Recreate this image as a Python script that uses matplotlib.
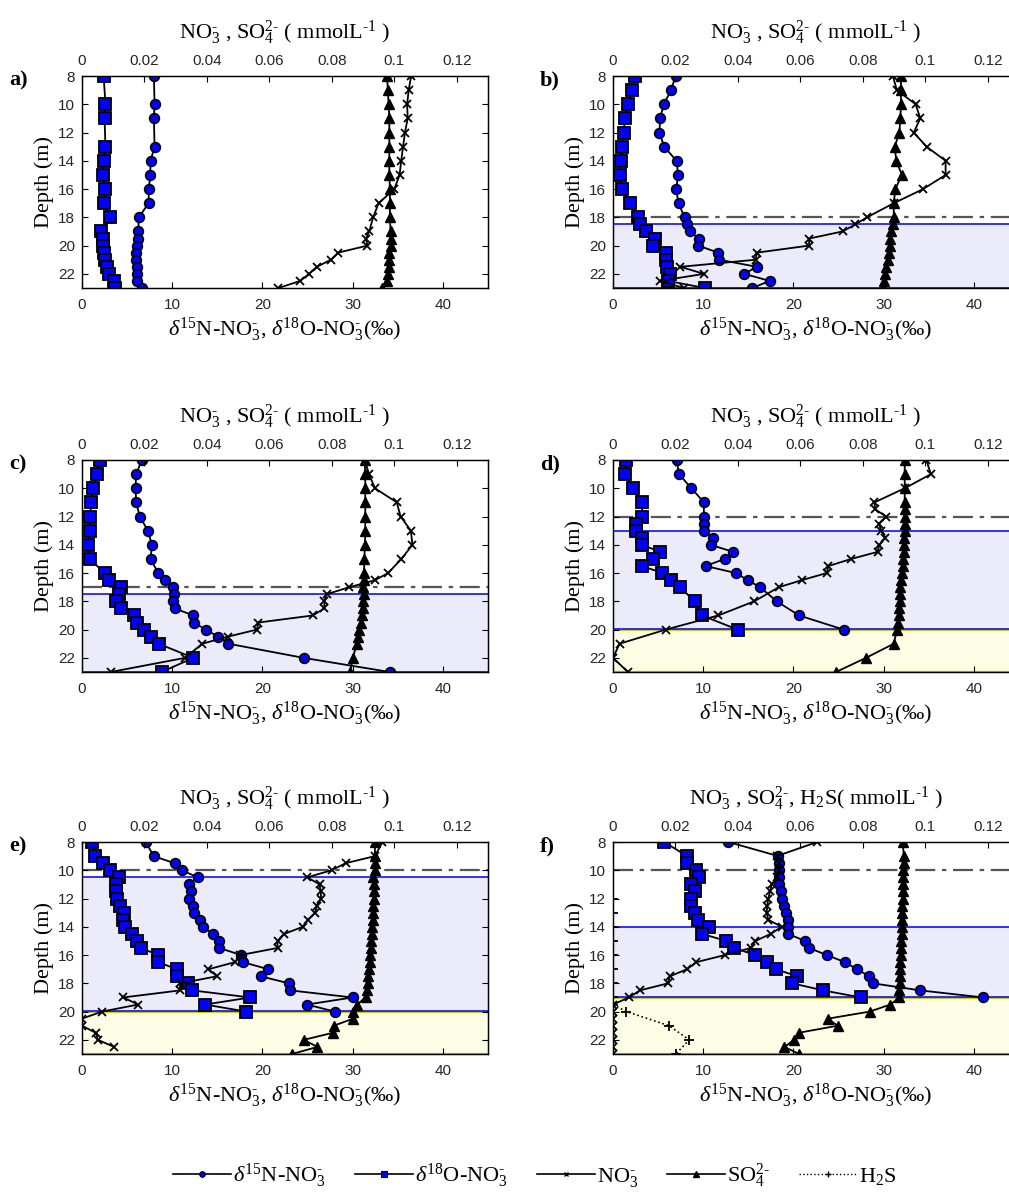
import matplotlib
matplotlib.use('Agg')
import matplotlib.pyplot as plt
from matplotlib.lines import Line2D

plt.rcParams['font.family'] = ['Liberation Serif', 'DejaVu Serif']
plt.rcParams['mathtext.fontset'] = 'custom'
plt.rcParams['mathtext.rm'] = 'Liberation Serif'
plt.rcParams['mathtext.it'] = 'Liberation Serif:italic'
plt.rcParams['mathtext.bf'] = 'Liberation Serif:bold'

# ---- a) ----
a_iso_depth = [8, 10, 11, 13, 14, 15, 16, 17, 18, 19, 19.5, 20, 20.5, 21, 21.5, 22, 22.5, 23]
a_d15n = [7.97, 8.04, 7.97, 8.04, 7.6, 7.56, 7.41, 7.38, 6.3, 6.23, 6.23, 6.15, 5.97, 6.0, 6.08, 6.08, 6.1, 6.64]
a_d18o = [2.4, 2.6, 2.5, 2.6, 2.4, 2.3, 2.6, 2.4, 3.15, 2.15, 2.33, 2.37, 2.48, 2.6, 2.78, 3.04, 3.52, 3.7]
a_chem_depth = [8, 9, 10, 11, 12, 13, 14, 15, 16, 17, 18, 19, 19.5, 20, 20.5, 21, 21.5, 22, 22.5, 23]
a_no3 = [0.1054, 0.1046, 0.1041, 0.1043, 0.1034, 0.1028, 0.1022, 0.1017, 0.1000, 0.0950,
         0.0932, 0.0920, 0.0909, 0.0914, 0.0820, 0.0797, 0.0752, 0.0727, 0.0699, 0.0629]
a_so4_depth = a_chem_depth
a_so4 = [0.0977, 0.0979, 0.0982, 0.0984, 0.0984, 0.0984, 0.0984, 0.0984, 0.0986, 0.0986,
         0.0986, 0.0988, 0.0988, 0.0988, 0.0984, 0.0984, 0.0982, 0.0981, 0.0975, 0.0959]

# ---- b) ----
b_iso_depth = [8, 9, 10, 11, 12, 13, 14, 15, 16, 17, 18, 18.5, 19, 19.5, 20, 20.5, 21, 21.5, 22, 22.5, 23]
b_d15n = [6.93, 6.44, 5.63, 5.22, 5.15, 5.67, 7.04, 7.22, 7.0, 7.26, 7.93, 8.22, 8.52, 9.56, 9.44,
          11.67, 11.78, 15.93, 14.56, 17.37, 15.44]
b_d18o = [2.48, 2.11, 1.63, 1.3, 1.19, 1.0, 0.85, 0.74, 1.04, 1.85, 2.78, 3.04, 3.63, 4.63, 4.44,
          5.85, 5.89, 6.0, 6.3, 6.07, 10.19]
b_chem_depth = b_iso_depth
b_no3 = [0.0896, 0.0909, 0.0969, 0.0984, 0.0963, 0.1004, 0.1065, 0.1065, 0.0993, 0.0899, 0.0813,
         0.0776, 0.0735, 0.0628, 0.0628, 0.0460, 0.0457, 0.0216, 0.0291, 0.0150, 0.0227]
b_so4_depth = b_iso_depth
b_so4 = [0.0922, 0.0922, 0.0922, 0.0920, 0.0917, 0.0902, 0.0907, 0.0925, 0.0904, 0.0899, 0.0899,
         0.0896, 0.0891, 0.0888, 0.0886, 0.0883, 0.0880, 0.0875, 0.0872, 0.0867, 0.0864]

# ---- c) ----
c_iso_depth = [8, 9, 10, 11, 12, 13, 14, 15, 16, 16.5, 17, 17.5, 18, 18.5, 19, 19.5, 20, 20.5, 21, 22, 23]
c_d15n = [6.63, 6.0, 5.93, 6.0, 6.41, 7.3, 7.75, 7.6, 8.45, 9.19, 10.04, 10.16, 10.04, 10.27,
          12.34, 12.42, 13.71, 15.09, 16.23, 24.57, 34.1]
c_d18o = [1.96, 1.7, 1.22, 1.0, 0.93, 0.85, 0.63, 0.85, 2.52, 3.0, 4.3, 4.11, 3.82, 4.37,
          5.71, 6.08, 6.86, 7.67, 8.49, 12.34, 8.82]
c_chem_depth = c_iso_depth
c_no3 = [0.0905, 0.0919, 0.0938, 0.1008, 0.1020, 0.1053, 0.1058, 0.1023, 0.0980, 0.0938, 0.0856,
         0.0783, 0.0776, 0.0776, 0.0739, 0.0565, 0.0560, 0.0467, 0.0385, 0.0330, 0.0092]
c_so4_depth = c_iso_depth
c_so4 = [0.0905, 0.0907, 0.0907, 0.0907, 0.0907, 0.0907, 0.0906, 0.0904, 0.0903, 0.0903, 0.0901,
         0.0903, 0.0901, 0.0899, 0.0896, 0.0892, 0.0888, 0.0884, 0.0880, 0.0867, 0.0858]

# ---- d) ----
d_iso_depth = [8, 9, 10, 11, 12, 12.5, 13, 13.5, 14, 14.5, 15, 15.5, 16, 16.5, 17, 18, 19, 20]
d_d15n = [7.07, 7.3, 8.7, 10.07, 10.07, 10.07, 10.07, 11.04, 10.81, 13.33, 12.37, 10.26,
          13.63, 14.93, 16.3, 18.15, 20.63, 25.56]
d_d18o = [1.48, 1.37, 2.19, 3.26, 3.19, 2.59, 2.52, 3.26, 3.19, 5.26, 4.44, 3.22,
          5.48, 6.48, 7.44, 9.04, 9.85, 13.81]
d_chem_depth = [8, 9, 10, 11, 11.5, 12, 12.5, 13, 13.5, 14, 14.5, 15, 15.5, 16, 16.5, 17,
                18, 19, 20, 21, 22, 23]
d_no3 = [0.1003, 0.1018, 0.0934, 0.0837, 0.0840, 0.0875, 0.0851, 0.0859, 0.0872, 0.0853, 0.0847,
         0.0763, 0.0690, 0.0684, 0.0605, 0.0531, 0.0452, 0.0337, 0.0169, 0.0021, 0.0, 0.0048]
d_so4_depth = [8, 9, 10, 11, 11.5, 12, 12.5, 13, 13.5, 14, 14.5, 15, 15.5, 16, 16.5, 17,
               17.5, 18, 18.5, 19, 19.5, 20, 21, 22, 23]
d_so4 = [0.0934, 0.0934, 0.0934, 0.0934, 0.0934, 0.0934, 0.0934, 0.0934, 0.0933, 0.0932, 0.0931,
         0.0929, 0.0927, 0.0924, 0.0922, 0.0920, 0.0919, 0.0918, 0.0917, 0.0916, 0.0914, 0.0909,
         0.0899, 0.0810, 0.0714]

# ---- e) ----
e_iso_depth = [8, 9, 9.5, 10, 10.5, 11, 11.5, 12, 12.5, 13, 13.5, 14, 14.5, 15, 15.5, 16, 16.5,
               17, 17.5, 18, 18.5, 19, 19.5, 20]
e_d15n = [7.08, 7.93, 10.27, 11.08, 12.82, 11.86, 12.08, 11.82, 12.31, 12.38, 13.12, 13.38, 14.53,
          15.2, 15.23, 17.64, 17.83, 20.64, 19.79, 22.94, 23.09, 29.99, 24.94, 28.02]
e_d18o = [1.11, 1.48, 2.33, 3.15, 4.11, 3.82, 3.82, 3.93, 4.26, 4.63, 4.56, 4.82, 5.52, 6.15,
          6.56, 8.45, 8.45, 10.49, 10.53, 11.79, 12.23, 18.64, 13.64, 18.2]
e_chem_depth = [8, 9, 9.5, 10, 10.5, 11, 11.5, 12, 12.5, 13, 13.5, 14, 14.5, 15, 15.5, 16, 16.5,
                17, 17.5, 18, 18.5, 19, 19.5, 20, 20.5, 21, 21.5, 22, 22.5]
e_no3 = [0.0962, 0.0938, 0.0844, 0.0799, 0.0721, 0.0761, 0.0764, 0.0766, 0.0751, 0.0747, 0.0723,
         0.0707, 0.0648, 0.0626, 0.0626, 0.0507, 0.0490, 0.0405, 0.0432, 0.0314, 0.0314, 0.0132,
         0.0180, 0.0064, 0.0, 0.0, 0.0044, 0.0051, 0.0103]
e_so4_depth = e_chem_depth + [23]
e_so4 = [0.0938, 0.0938, 0.0937, 0.0937, 0.0933, 0.0935, 0.0935, 0.0935, 0.0933, 0.0933, 0.0931,
         0.0929, 0.0927, 0.0926, 0.0924, 0.0922, 0.0921, 0.0919, 0.0917, 0.0917, 0.0913, 0.0908,
         0.0881, 0.0868, 0.0868, 0.0806, 0.0803, 0.0710, 0.0754, 0.0672]

# ---- f) ----
f_iso_depth = [8, 9, 9.5, 10, 10.5, 11, 11.5, 12, 12.5, 13, 13.5, 14, 14.5, 15, 15.5, 16, 16.5,
               17, 17.5, 18, 18.5, 19]
f_d15n = [12.78, 18.33, 18.37, 18.41, 18.37, 18.41, 18.63, 18.78, 19.0, 19.22, 19.37, 19.37, 19.37,
          21.3, 21.74, 23.7, 25.7, 27.04, 28.41, 28.81, 34.07, 41.04]
f_d18o = [5.67, 8.22, 8.22, 9.22, 9.52, 8.7, 9.11, 8.59, 8.7, 9.11, 9.37, 10.59, 9.85, 12.56,
          13.41, 15.78, 17.04, 18.04, 20.44, 19.89, 23.3, 27.48]
f_chem_depth = f_iso_depth + [19.5, 20, 20.5, 21, 21.5, 22, 22.5, 23]
f_no3 = [0.0654, 0.0524, 0.0531, 0.0531, 0.0524, 0.0508, 0.0503, 0.0497, 0.0494, 0.0492, 0.0497,
         0.0540, 0.0505, 0.0456, 0.0441, 0.0358, 0.0267, 0.0237, 0.0182, 0.0176, 0.0086, 0.0051,
         0.0, 0.0, 0.0, 0.0, 0.0, 0.0, 0.0, 0.0]
f_so4_depth = f_chem_depth
f_so4 = [0.0928, 0.0931, 0.0931, 0.0929, 0.0929, 0.0928, 0.0927, 0.0927, 0.0926, 0.0926, 0.0925,
         0.0925, 0.0924, 0.0923, 0.0922, 0.0921, 0.0920, 0.0919, 0.0918, 0.0918, 0.0917, 0.0917,
         0.0888, 0.0822, 0.0688, 0.0719, 0.0594, 0.0580, 0.0549, 0.0596]
f_h2s_depth = [12, 13, 14, 15, 16, 17, 18, 19, 19.5, 20, 21, 22, 23]
f_h2s = [0, 0, 0, 0, 0, 0, 0, 0, 0, 0.0043, 0.0180, 0.0244, 0.0201]

# layers: dash-dot depth, blue (suboxic) zone, yellow (sulfidic) zone
chemocline = {'a': None, 'b': 18, 'c': 17, 'd': 12, 'e': 10, 'f': 10}
blue_zone = {'a': None, 'b': (18.5, 23), 'c': (17.5, 23), 'd': (13, 20), 'e': (10.5, 20), 'f': (14, 19)}
yellow_zone = {'a': None, 'b': None, 'c': None, 'd': (20, 23), 'e': (20, 23), 'f': (19, 23)}

iso_ticks = [0, 10, 20, 30, 40]
conc_ticks = [0, 0.02, 0.04, 0.06, 0.08, 0.1, 0.12]
conc_ticklabels = ['0', '0.02', '0.04', '0.06', '0.08', '0.1', '0.12']
depth_ticks = [8, 10, 12, 14, 16, 18, 20, 22]

HY = r'\text{-}'
top_label = r'NO$_3^{%s}$ , SO$_4^{2%s}$ ( mmolL$^{%s1}$ )' % (HY, HY, HY)
top_label_f = r'NO$_3^{%s}$ , SO$_4^{2%s}$, H$_2$S( mmolL$^{%s1}$ )' % (HY, HY, HY)
bottom_label = r'$\delta^{15}$N-NO$_3^{%s}$, $\delta^{18}$O-NO$_3^{%s}$(‰)' % (HY, HY)

panels = {
    'a': (a_iso_depth, a_d15n, a_d18o, a_chem_depth, a_no3, a_so4_depth, a_so4),
    'b': (b_iso_depth, b_d15n, b_d18o, b_chem_depth, b_no3, b_so4_depth, b_so4),
    'c': (c_iso_depth, c_d15n, c_d18o, c_chem_depth, c_no3, c_so4_depth, c_so4),
    'd': (d_iso_depth, d_d15n, d_d18o, d_chem_depth, d_no3, d_so4_depth, d_so4),
    'e': (e_iso_depth, e_d15n, e_d18o, e_chem_depth, e_no3, e_so4_depth, e_so4),
    'f': (f_iso_depth, f_d15n, f_d18o, f_chem_depth, f_no3, f_so4_depth, f_so4),
}

W, H = 1009, 1202
fig = plt.figure(figsize=(W / 100, H / 100), dpi=100)

col_left = {'a': 82, 'b': 613, 'c': 82, 'd': 613, 'e': 82, 'f': 613}
row_top = {'a': 76, 'b': 76, 'c': 460, 'd': 460, 'e': 842, 'f': 842}
ax_w, ax_h = 406, 212

BLUE_FILL = '#ebebfa'
YELLOW_FILL = '#fdfde6'
BLUE_LINE = '#1010f0'
YELLOW_LINE = '#c8c800'
TICK_COL = '#262626'

line_kw = dict(color='k', lw=1.3)
circ_kw = dict(marker='o', ms=7, mfc='#0000ff', mec='k', mew=1.2)
sq_kw = dict(marker='s', ms=8, mfc='#0000ff', mec='k', mew=1.3)
x_kw = dict(marker='x', ms=5.5, mec='k', mew=1.3)
tri_kw = dict(marker='^', ms=6.5, mfc='k', mec='k', mew=1.0)

for key, (iso_d, d15n, d18o, chem_d, no3, so4_d, so4) in panels.items():
    left = col_left[key]
    top = row_top[key]
    ax = fig.add_axes([left / W, 1 - (top + ax_h) / H, ax_w / W, ax_h / H])
    ax2 = ax.twiny()

    # shaded redox zones
    if yellow_zone[key]:
        y0, y1 = yellow_zone[key]
        ax.axhspan(y0, y1, color=YELLOW_FILL, lw=0, zorder=0)
        ax.axhline(y0 + 0.05, color=YELLOW_LINE, lw=1.3, zorder=1)
        ax.axhline(y1 - 0.02, color=YELLOW_LINE, lw=1.6, zorder=1)
    if blue_zone[key]:
        y0, y1 = blue_zone[key]
        ax.axhspan(y0, y1, color=BLUE_FILL, lw=0, zorder=0)
        ax.axhline(y0, color=BLUE_LINE, lw=1.2, zorder=1)
        ax.axhline(y1 - 0.03, color=BLUE_LINE, lw=1.2, zorder=1)
    if chemocline[key] is not None:
        ax.axhline(chemocline[key], color='#555555', lw=1.6, dashes=(9, 3, 2, 3), zorder=1)

    # isotopes on the bottom axis
    ax.plot(d18o, iso_d, **line_kw, **sq_kw, zorder=3)
    ax.plot(d15n, iso_d, **line_kw, **circ_kw, zorder=3)

    # concentrations on the top axis
    ax2.plot(no3, chem_d, **line_kw, **x_kw, zorder=3)
    ax2.plot(so4, so4_d, **line_kw, **tri_kw, zorder=3)
    if key == 'f':
        ax2.plot(f_h2s, f_h2s_depth, color='k', lw=1.2, ls=':', marker='+', ms=7, mew=1.3, zorder=3)

    ax.set_xlim(0, 45)
    ax2.set_xlim(0, 0.13)
    ax.set_ylim(23, 8)
    ax.set_xticks(iso_ticks)
    ax.set_yticks(depth_ticks)
    ax2.set_xticks(conc_ticks)
    ax2.set_xticklabels(conc_ticklabels)

    for a in (ax, ax2):
        a.tick_params(direction='in', length=4, width=0.8, labelsize=11,
                      labelcolor=TICK_COL, labelfontfamily='Liberation Sans', pad=5)
        for sp in a.spines.values():
            sp.set_linewidth(0.9)
    ax.tick_params(axis='y', right=True, pad=5)
    ax.tick_params(axis='x', pad=7)
    ax2.tick_params(axis='x', pad=6)

    ax.set_ylabel('Depth (m)', fontsize=16, labelpad=3)
    ax.set_xlabel(bottom_label, fontsize=16, labelpad=3)
    ax2.set_xlabel(top_label_f if key == 'f' else top_label, fontsize=16, labelpad=11)

    fig.text((left - 73) / W, 1 - (top + 4) / H, key + ')', fontsize=16,
             fontweight='bold', va='center', ha='left')

# shared legend along the bottom
handles = [
    Line2D([], [], color='k', lw=1.2, marker='o', ms=4, mfc='#0000ff', mec='k', mew=0.8),
    Line2D([], [], color='k', lw=1.2, marker='s', ms=4, mfc='#0000ff', mec='k', mew=0.8),
    Line2D([], [], color='k', lw=1.2, marker='x', ms=3.5, mec='k', mew=1.0),
    Line2D([], [], color='k', lw=1.2, marker='^', ms=4, mfc='k', mec='k'),
    Line2D([], [], color='k', lw=1.0, ls=':', marker='+', ms=5, mew=1.0),
]
labels = [
    r'$\delta^{15}$N-NO$_3^{%s}$' % HY,
    r'$\delta^{18}$O-NO$_3^{%s}$' % HY,
    r'NO$_3^{%s}$' % HY,
    r'SO$_4^{2%s}$' % HY,
    r'H$_2$S',
]
fig.legend(handles, labels, loc='center', bbox_to_anchor=(535 / W, 1 - 1176 / H), ncol=5,
           frameon=False, fontsize=16, handlelength=2.6, handletextpad=0.1, columnspacing=1.3)

fig.savefig('out.png', dpi=100)
